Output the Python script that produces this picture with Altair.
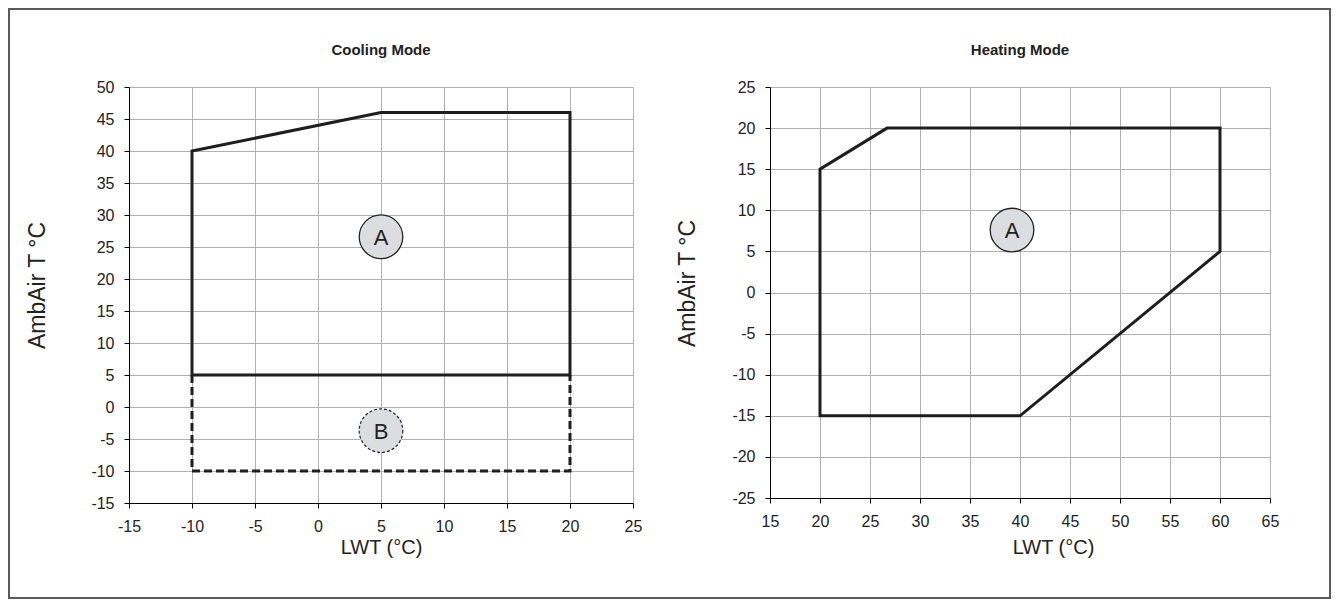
import altair as alt
import pandas as pd

# ---------------- data ----------------
cool_a_x = [-10, -10, 5, 20, 20, -10]
cool_a_y = [5, 40, 46, 46, 5, 5]
cool_b_x = [-10, -10, 20, 20]
cool_b_y = [5, -10, -10, 5]
heat_a_x = [20, 20, 26.7, 60, 60, 40, 20]
heat_a_y = [-15, 15, 20, 20, 5, -15, -15]

cool_x_ticks = list(range(-15, 30, 5))
cool_y_ticks = list(range(-15, 55, 5))
heat_x_ticks = list(range(15, 70, 5))
heat_y_ticks = list(range(-25, 30, 5))

cool_zone_labels = ["A", "B"]
cool_zone_x = [5, 5]
cool_zone_y = [26.6, -3.7]
heat_zone_labels = ["A"]
heat_zone_x = [39.2]
heat_zone_y = [7.6]

panel_titles = ["Cooling Mode", "Heating Mode"]

REG = "Liberation Sans, Arial"
INK = "#1e1e1e"


def poly(xs, ys):
    return pd.DataFrame({"x": xs, "y": ys, "i": list(range(len(xs)))})


def axis(vals, title, pad, tsize, tx=None, ty=None):
    kw = dict(values=vals, title=title, grid=True, gridColor="#b0b0b0", gridWidth=1,
              domainColor="#000", domainWidth=1, tickColor="#000", tickSize=5,
              labelFont=REG, labelFontSize=16, labelColor="#222", labelPadding=10,
              labelOverlap=False, labelFlush=False, labelExpr="'' + datum.value",
              titleFont=REG, titleFontSize=tsize, titleFontWeight="normal",
              titleColor="#222", titlePadding=pad)
    if tx is not None:
        kw["titleX"] = tx
    if ty is not None:
        kw["titleY"] = ty
    return alt.Axis(**kw)


def panel(xs, ys, xdom, ydom, xt, yt, xpad, ypad, tx, ty, w, h, title, zones, dashed=None, frame=False):
    xenc = alt.X("x:Q", scale=alt.Scale(domain=xdom, nice=False, zero=False),
                 axis=axis(xt, "LWT (°C)", xpad, 20, tx=tx))
    yenc = alt.Y("y:Q", scale=alt.Scale(domain=ydom, nice=False, zero=False),
                 axis=axis(yt, "AmbAir T °C", ypad, 23, ty=ty))
    layers = []
    layers.append(alt.Chart(poly(xs, ys)).mark_line(color=INK, strokeWidth=3, strokeJoin="miter",
                                                    strokeCap="square")
                  .encode(x=xenc, y=yenc, order="i:Q"))
    if dashed is not None:
        layers.append(alt.Chart(poly(*dashed)).mark_line(color=INK, strokeWidth=3, strokeDash=[8, 4],
                                                         strokeJoin="miter")
                      .encode(x=xenc, y=yenc, order="i:Q"))
    zdf = pd.DataFrame({"lab": zones[0], "x": zones[1], "y": zones[2],
                        "dash": ["solid"] + ["dashed"] * (len(zones[0]) - 1)})
    layers.append(alt.Chart(zdf).transform_filter(alt.datum.dash == "solid")
                  .mark_point(shape="circle", filled=True, size=1900, fill="#dcdde0",
                              stroke="#222", strokeWidth=1.3, opacity=1)
                  .encode(x=xenc, y=yenc))
    if len(zones[0]) > 1:
        layers.append(alt.Chart(zdf).transform_filter(alt.datum.dash == "dashed")
                      .mark_point(shape="circle", filled=True, size=1900, fill="#dcdde0",
                                  stroke="#222", strokeWidth=1.2, strokeDash=[3, 2], opacity=1)
                      .encode(x=xenc, y=yenc))
    layers.append(alt.Chart(zdf).mark_text(font=REG, fontSize=22, color="#222", baseline="middle", dy=1)
                  .encode(x=xenc, y=yenc, text="lab:N"))
    # panel title
    layers.append(alt.Chart(pd.DataFrame({"t": [title]})).mark_text(
        font=REG, fontSize=15, fontWeight="bold", color="#222", baseline="middle", align="center")
        .encode(x=alt.value(w / 2), y=alt.value(-37), text="t:N"))
    if frame:
        layers.append(alt.Chart(pd.DataFrame({"k": [0]})).mark_rect(fillOpacity=0, stroke="#5a5a5a",
                                                                      strokeWidth=2)
                      .encode(x=alt.value(-120), x2=alt.value(1201),
                              y=alt.value(-78), y2=alt.value(511)))
    return alt.layer(*layers).properties(width=w, height=h)


left = panel(cool_a_x, cool_a_y, [-15, 25], [-15, 50], cool_x_ticks, cool_y_ticks, 3, 41, None, 198,
             504, 416, panel_titles[0], (cool_zone_labels, cool_zone_x, cool_zone_y),
             dashed=(cool_b_x, cool_b_y), frame=True)
right = panel(heat_a_x, heat_a_y, [15, 65], [-25, 25], heat_x_ticks, heat_y_ticks, 8, 32, 283, 196,
              500, 411, panel_titles[1], (heat_zone_labels, heat_zone_x, heat_zone_y))

chart = alt.hconcat(left, right, spacing=137, bounds="flush").properties(padding=0).configure_view(
    strokeWidth=0).configure_axis(labelOverlap=False)

chart.save("out.html", embed_options={"renderer": "svg", "actions": False})
